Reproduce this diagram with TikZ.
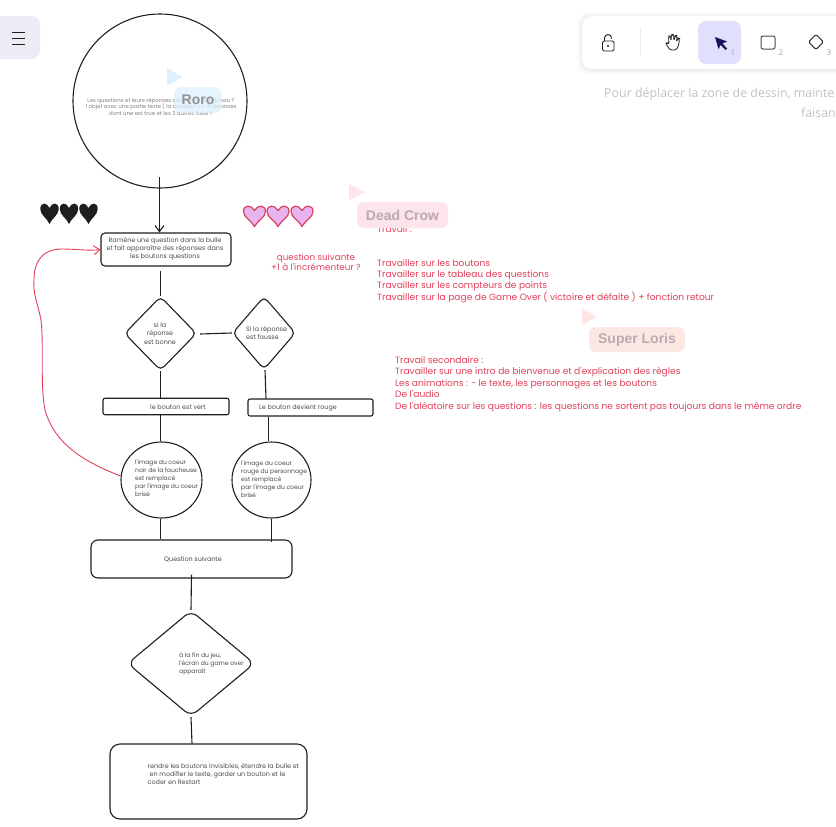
\documentclass[tikz,border=0pt]{standalone}
\usepackage{fontspec}
\setmainfont{Open Sans}
\newfontfamily\handfont{Poppins}
\newfontfamily\namefont{Liberation Sans}
\usetikzlibrary{shapes.geometric,arrows.meta}
\definecolor{inkblack}{HTML}{1E1E1E}
\definecolor{inkgray}{HTML}{4A4A4A}
\definecolor{inkred}{HTML}{E2405A}
\definecolor{heartpink}{HTML}{E9B3F0}
\definecolor{heartline}{HTML}{D8435F}
\definecolor{menufill}{HTML}{ECECF4}
\definecolor{activefill}{HTML}{E0DFFC}
\definecolor{navyink}{HTML}{14135C}
\definecolor{hintgray}{HTML}{C2C2C2}
\definecolor{roroblue}{HTML}{DCF0FD}
\definecolor{crowpink}{HTML}{FCE3EC}
\definecolor{lorispink}{HTML}{FDE7E3}
\definecolor{tagtext}{HTML}{BBAAB2}
\begin{document}
\begin{tikzpicture}[x=1pt,y=-1pt,>={Straight Barb[length=6pt,width=9pt]},
	shape box/.style={rectangle,draw=inkblack,line width=1.1pt,rounded corners=#1,inner sep=0pt},
	shape box/.default=4pt,
	shape round/.style={ellipse,draw=inkblack,line width=1.1pt,inner sep=0pt},
	shape diam/.style={diamond,draw=inkblack,line width=1.1pt,rounded corners=5pt,inner sep=0pt},
	link/.style={draw=inkblack,line width=1.1pt},
	hand text/.style={font=\handfont\fontsize{6.4}{8.1}\selectfont,text=inkgray,inner sep=0pt,align=left},
	coeur text/.style={hand text,anchor=west,font=\handfont\fontsize{6.05}{8.1}\selectfont},
	red text/.style={font=\handfont\fontsize{9.1}{11.45}\selectfont,text=inkred,inner sep=0pt,align=left},
	name tag/.style={rectangle,rounded corners=7pt,inner sep=0pt,font=\namefont\bfseries},
	heart pic/.pic={\path[pic actions] (0,-5) .. controls (-3,-11) and (-11,-11) .. (-11,-4)
		.. controls (-11,2) and (-3,5) .. (0,11) .. controls (3,5) and (11,2) .. (11,-4)
		.. controls (11,-11) and (3,-11) .. (0,-5) -- cycle;}
]
	\clip (0,0) rectangle (836,827);

	% interface
	\fill[menufill,rounded corners=8pt] (-12,16) rectangle (40,59);
	\foreach \y in {32,38,44}
		\draw[inkblack,line width=.9pt] (12,\y) -- (25,\y);
	\foreach \g/\o in {5/.012,3.5/.015,2/.018,1/.02}
		\fill[black,opacity=\o,rounded corners=11pt] (582-\g,16-\g+1) rectangle (870,69+\g+1);
	\node[rectangle,fill=white,rounded corners=10pt,minimum width=280pt,minimum height=53pt,anchor=north west] (toolbar) at (582,16) {};
	\fill[activefill,rounded corners=8pt] (698,21) rectangle (741,64);
	\draw[menufill,line width=.8pt] (640,28) -- (640,56);
	\draw[inkblack,line width=.9pt,rounded corners=1.5pt] (602.5,41) rectangle (614,51);
	\draw[inkblack,line width=.9pt] (604.5,41) -- (604.5,38) arc (180:360:3.5) -- (611.5,38.5);
	\fill[inkblack] (608,46) circle (1.2);
	\draw[inkblack,line width=.8pt,rounded corners=1.5pt] (670,50) -- (666,44) -- (667,42.5) -- (669,44)
		-- (668.5,36) -- (670.5,36) -- (671,41) -- (671.5,34.5) -- (673.5,34.5) -- (674,41) -- (675,35.5) -- (677,35.5)
		-- (676.5,42) -- (678,38) -- (679.5,38.5) -- (678.5,46) -- (676,50) -- cycle;
	\fill[navyink] (715,37) -- (727,41.5) -- (722.5,43.5) -- (727,48.5) -- (725.5,50) -- (720.5,45) -- (718.5,49) -- cycle;
	\draw[inkblack!80,line width=1pt,rounded corners=2pt] (761,36) rectangle (775,49);
	\draw[inkblack,line width=.9pt,rounded corners=1.5pt] (816,34.5) -- (823.5,42) -- (816,49.5) -- (808.5,42) -- cycle;
	\foreach \x/\k in {733/1,781/2,829/3}
		\node[font=\fontsize{8}{8}\selectfont,text=gray!70,inner sep=0pt] (key\k) at (\x,52.5) {\k};
	\node[font=\fontsize{12.4}{12}\selectfont,text=hintgray,inner sep=0pt,anchor=west] (hinta) at (604,94) {Pour déplacer la zone de dessin, mainte};
	\node[font=\fontsize{12.4}{12}\selectfont,text=hintgray,inner sep=0pt,anchor=east] (hintb) at (836,113) {faisan};

	% flow shapes
	\node[shape round,minimum width=174pt,minimum height=174pt] (bubble) at (160,101) {};
	\node[shape box,minimum width=130pt,minimum height=33pt] (intro) at (166,249.5) {};
	\node[shape diam,minimum width=72pt,minimum height=74pt] (good) at (160.5,333.5) {};
	\node[shape diam,minimum width=63pt,minimum height=73pt] (bad) at (264,333) {};
	\node[shape box=2pt,minimum width=126pt,minimum height=16.5pt] (green) at (166,406.5) {};
	\node[shape box=2pt,minimum width=125pt,minimum height=17pt] (red) at (310.5,407.5) {};
	\node[shape round,minimum width=81pt,minimum height=76pt] (heartA) at (161.5,480) {};
	\node[shape round,minimum width=79pt,minimum height=76pt] (heartB) at (271.5,480) {};
	\node[shape box=7pt,minimum width=201pt,minimum height=38pt] (next) at (191.5,559) {};
	\node[shape diam,minimum width=127pt,minimum height=106pt,rounded corners=8pt] (over) at (191,663.5) {};
	\node[shape box=10pt,minimum width=197pt,minimum height=75pt] (restart) at (208.5,781.5) {};

	% flow links
	\coordinate (start) at (159.5,177);
	\draw[link,->] (start) -- (start |- intro.north);
	\draw[link] ([yshift=-4pt]good.north |- intro.south) -- (good.north);
	\draw[link] (good.east) ++(3,.5) -- (bad.west);
	\draw[link] (good.south) -- (good.south |- green.north);
	\draw[link] (bad.south) ++(1,0) -- ([xshift=2pt]bad.south |- red.north);
	\draw[link] (good.south |- green.south) -- (good.south |- heartA.north);
	\draw[link] ([xshift=-3pt]heartB.north |- red.south) -- ([xshift=-3pt]heartB.north);
	\draw[link] (good.south |- heartA.south) -- (good.south |- next.north);
	\draw[link] (heartB.south) -- ([yshift=-3pt]heartB.south |- next.north);
	\draw[link] ([yshift=4pt]next.south) -- (over.north);
	\draw[link] (over.south) -- ([xshift=1pt]over.south |- restart.north);
	\draw[inkred,line width=.9pt,->] (heartA.west) ++(0,-4) .. controls (85,462) and (55,445) .. (45,410)
		.. controls (40,385) and (44,345) .. (41,320) .. controls (37,300) and (33,295) .. (34,280)
		.. controls (34,262) and (42,249) .. (62,249) .. controls (75,249) and (88,251) .. (intro.west);

	% hearts
	\foreach \x in {49.5,69,88.5}
		\pic[fill=inkblack,xscale=.84] at (\x,213) {heart pic};
	\foreach \x in {254.5,278,302}
		\pic[fill=heartpink,draw=heartline,line width=1.2pt] at (\x,215.5) {heart pic};

	% texts
	\node[hand text,font=\handfont\fontsize{5.4}{6.5}\selectfont,text=gray,align=center] (bubbletext) at (161,106.5)
		{Les questions et leurs réponses sont dans un tableau ?\\1 objet avec une partie texte ( la question ) + 4 réponses\\dont une est true et les 3 autres false ?};
	\node[hand text,align=center] (introtext) at (165,249)
		{Ramène une question dans la bulle\\et fait apparaître des réponses dans\\les boutons questions};
	\node[hand text,align=center] (goodtext) at (160,333.5) {si la\\réponse\\est bonne};
	\node[hand text,anchor=west] (badtext) at (246,333) {Si la réponse\\est fausse};
	\node[hand text,anchor=west] (greentext) at (150,407.5) {le bouton est vert};
	\node[hand text,anchor=west] (redtext) at (259,408) {Le bouton devient rouge};
	\node[coeur text] (heartAtext) at (135,478) {l'image du coeur\\noir de la faucheuse\\est remplacé\\par l'image du coeur\\brisé};
	\node[coeur text] (heartBtext) at (241,479) {l'image du coeur\\rouge du personnage\\est remplacé\\par l'image du coeur\\brisé};
	\node[hand text,anchor=west] (nexttext) at (164,559) {Question suivante};
	\node[coeur text] (overtext) at (179,664) {à la fin du jeu,\\l'écran du game over\\apparaît};
	\node[hand text,anchor=west] (restarttext) at (147.5,774) {rendre les boutons invisibles, étendre la bulle et\\\hspace{2pt}en modifier le texte, garder un bouton et le\\coder en Restart};
	\node[red text,font=\handfont\fontsize{8.8}{10.5}\selectfont,align=center] (countertext) at (316,262) {question suivante\\+1 à l'incrémenteur ?};
	\node[red text,anchor=west] (worktitle) at (377,229) {Travail :};
	\node[red text,anchor=west] (worklist) at (377,281) {Travailler sur les boutons\\Travailler sur le tableau des questions\\Travailler sur les compteurs de points\\Travailler sur la page de Game Over ( victoire et défaite ) + fonction retour};
	\node[red text,anchor=west] (extralist) at (395,384) {Travail secondaire :\\Travailler sur une intro de bienvenue et d'explication des règles\\Les animations : - le texte, les personnages et les boutons\\De l'audio\\De l'aléatoire sur les questions : les questions ne sortent pas toujours dans le même ordre};

	% collaborators
	\fill[roroblue] (167,68) -- (182,77) -- (167,86) -- cycle;
	\node[name tag,fill=roroblue,fill opacity=.75,text opacity=1,text=gray!85,font=\namefont\bfseries\fontsize{14}{14}\selectfont,minimum width=48pt,minimum height=26pt] (roro) at (198,100) {Roro};
	\fill[crowpink] (349,184) -- (365,192) -- (349,200) -- cycle;
	\node[name tag,fill=crowpink,text=tagtext,font=\namefont\bfseries\fontsize{14}{14}\selectfont,minimum width=91pt,minimum height=26pt] (crow) at (402.5,215) {Dead Crow};
	\fill[lorispink] (582,308) -- (597,317) -- (582,325) -- cycle;
	\node[name tag,fill=lorispink,text=tagtext,font=\namefont\bfseries\fontsize{14}{14}\selectfont,minimum width=96pt,minimum height=25pt] (loris) at (637,339.5) {Super Loris};
\end{tikzpicture}
\end{document}
